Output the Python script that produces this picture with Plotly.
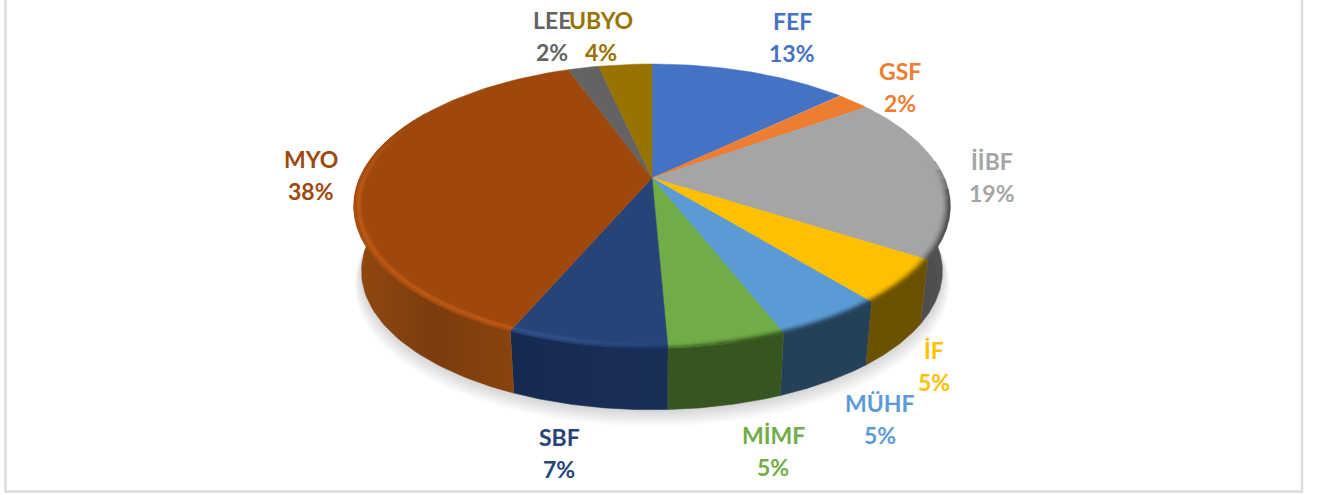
import math
import numpy as np
import plotly.graph_objects as go

# ---- data (share of each unit) ----
categories = ["FEF", "GSF", "İİBF", "İF", "MÜHF", "MİMF", "SBF", "MYO", "LEE", "UBYO"]
values = [13.0, 2.2, 18.8, 5.0, 5.0, 5.3, 7.2, 38.0, 2.0, 3.5]

# ---- styles ----
top_colors = ["#4472c4", "#ed7d31", "#a5a5a5", "#ffc000", "#5b9bd5", "#70ad47", "#264478", "#9e480e", "#636363", "#997300"]
label_colors = ["#4472c4", "#ed7d31", "#a5a5a5", "#ffc000", "#5b9bd5", "#70ad47", "#264478", "#9e480e", "#636363", "#997300"]
wall_colors = [
    ["#2a4678", "#2a4678"], ["#8a4a1c", "#8a4a1c"], ["#4c4c4c", "#545454"], ["#6b5100", "#6b5100"],
    ["#254158", "#254158"], ["#37551f", "#37551f"], ["#162a50", "#1a2f58"], ["#92480f", "#7c3c0f", "#8a430c"],
    ["#4a4a4a", "#4a4a4a"], ["#6f5400", "#6f5400"],
]
label_x = [792, 900, 992, 934, 880, 773, 559, 311, 552, 601]
label_y = [21, 71, 161, 350, 403, 435, 437, 159, 20, 20]
LINE_GAP = 31.5

# ---- projection of the tilted disc ----
CX, CY = 652.0, 178.0
A, B, K = 292.0, 136.5, 0.197
DROP, SHRINK = 66.0, 0.025


def project(r, theta_deg, level=0.0, grow=1.0, shift=0.0):
    t = np.radians(theta_deg)
    px, py = r * np.sin(t), r * np.cos(t)
    s = (1 - SHRINK * level) * grow
    d = 1 + K * py
    return CX + s * A * px / d, CY + DROP * level + shift - s * B * py / d


def hex_rgb(c):
    return np.array([int(c[i:i + 2], 16) for i in (1, 3, 5)], dtype=float)


def rgb(v):
    v = np.clip(v, 0, 255)
    return "rgb(%d,%d,%d)" % tuple(v)


fig = go.Figure()


def poly(x, y, color, lw=0):
    fig.add_trace(go.Scatter(
        x=list(x), y=list(y), mode="lines", fill="toself", fillcolor=color,
        line=dict(width=lw, color=color), hoverinfo="skip", showlegend=False))


# soft shadow
full = np.linspace(0, 360, 241)
for i in range(8, 0, -1):
    sx, sy = project(1.0, full, 1.0, grow=1 + 0.003 * i, shift=1.6 * i)
    poly(sx, sy, "rgba(0,0,0,0.02)")

total = sum(values)
edges = np.cumsum([0] + values) / total * 360

# side walls
VIS_MIN, VIS_MAX = 88.0, 292.0
for i, c in enumerate(categories):
    a0, a1 = max(edges[i], VIS_MIN), min(edges[i + 1], VIS_MAX)
    if a1 <= a0:
        continue
    th = np.linspace(a0, a1, 60)
    x0, y0 = project(1.0, th, 0.0)
    x1, y1 = project(1.0, th[::-1], 1.0)
    stops = wall_colors[i]
    scale = [[j / (len(stops) - 1), col] for j, col in enumerate(stops)]
    fig.add_trace(go.Scatter(
        x=np.concatenate([x0, x1]).tolist(), y=np.concatenate([y0, y1]).tolist(),
        mode="lines", fill="toself",
        fillgradient=dict(type="horizontal", colorscale=scale),
        line=dict(width=0.6, color=stops[1]), hoverinfo="skip", showlegend=False))

# top faces
for i, c in enumerate(categories):
    th = np.linspace(edges[i], edges[i + 1], 80)
    x, y = project(1.0, th)
    poly([CX] + list(x) + [CX], [CY] + list(y) + [CY], top_colors[i], lw=0.5)

# bevel on the rim
bands_r = [0.974, 0.98, 0.985, 0.99, 0.995, 1.002]
bands_mix = [0.08, 0.22, 0.42, 0.66, 0.9]
bands_glow = [0.3, 0.8, 1.0, 0.7, 0.3]
for i, c in enumerate(categories):
    a0, a1 = edges[i], edges[i + 1]
    n = max(1, int(math.ceil((a1 - a0) / 4)))
    steps = np.linspace(a0, a1, n + 1)
    top, wall = hex_rgb(top_colors[i]), hex_rgb(wall_colors[i][0])
    for s0, s1 in zip(steps[:-1], steps[1:]):
        m = (s0 + s1) / 2
        vis = min(1, max(0, (m - 84) / 14)) * min(1, max(0, (300 - m) / 35))
        if vis <= 0:
            continue
        left = min(1, max(0, (m - 165) / 30))
        glow = left * 30
        th = np.linspace(s0, s1, 6)
        for b in range(5):
            base = top + (wall - top) * bands_mix[b] * vis * (1 - 0.8 * left)
            col = base + glow * bands_glow[b] * vis * (top / 160 + 0.2)
            xa, ya = project(bands_r[b], th)
            xb, yb = project(bands_r[b + 1], th[::-1])
            poly(list(xa) + list(xb), list(ya) + list(yb), rgb(col), lw=0.4)

# labels
anns = []
for c, v, lx, ly, col in zip(categories, values, label_x, label_y, label_colors):
    for text, yy in ((c, ly), (f"{round(v)}%", ly + LINE_GAP)):
        anns.append(dict(x=lx, y=yy, text=text, xref="x", yref="y", showarrow=False,
                         xanchor="center", yanchor="middle",
                         font=dict(family="Lato", size=23, color=col, weight="bold")))

fig.update_layout(
    width=1323, height=495, margin=dict(l=0, r=0, t=0, b=0), autosize=False,
    paper_bgcolor="white", plot_bgcolor="white", showlegend=False,
    xaxis=dict(range=[0, 1323], visible=False, fixedrange=True),
    yaxis=dict(range=[495, 0], visible=False, fixedrange=True),
    annotations=anns,
    shapes=[dict(type="rect", xref="x", yref="y", x0=5.5, x1=1302, y0=-10, y1=491.5,
                 line=dict(color="#dcdcdc", width=2.5), layer="below")],
)
fig.write_html("out.html", config={"displayModeBar": False},
               post_script="document.body.style.margin='0';")
